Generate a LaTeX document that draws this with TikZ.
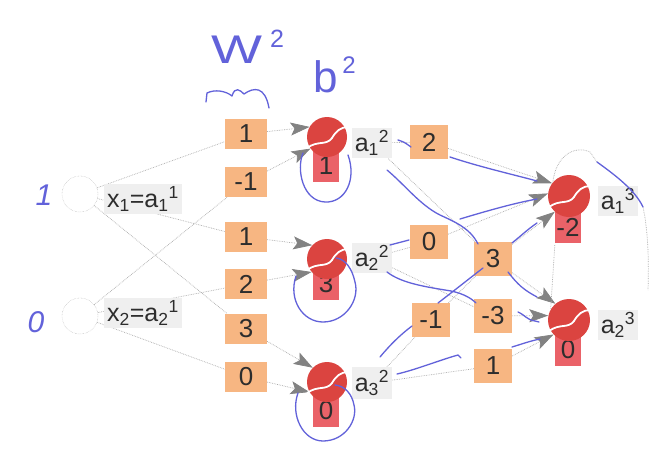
\documentclass[tikz,border=0pt]{standalone}
\usepackage{fontspec}
\setmainfont{Liberation Sans}
\usetikzlibrary{arrows.meta,backgrounds}

\definecolor{wbox}{RGB}{247,182,130}
\definecolor{neur}{RGB}{219,68,64}
\definecolor{bbox}{RGB}{234,98,104}
\definecolor{lbl}{RGB}{239,239,239}
\definecolor{ink}{RGB}{98,98,218}
\definecolor{wirec}{RGB}{170,170,170}
\definecolor{tipc}{RGB}{130,130,130}
\definecolor{printc}{RGB}{45,45,45}

\begin{document}
\begin{tikzpicture}[x=1pt,y=-1pt,
  wt/.style={fill=wbox, minimum width=42pt, minimum height=30pt, inner sep=0pt,
             text=printc, font=\fontsize{26}{28}\selectfont},
  wt2/.style={wt, minimum width=38pt, minimum height=34pt},
  bias/.style={fill=bbox, minimum width=26pt, minimum height=32pt, inner sep=0pt,
               text=printc, font=\fontsize{26}{28}\selectfont},
  neuron/.style={circle, fill=neur, minimum size=40pt, inner sep=0pt},
  inp/.style={circle, draw=wirec, densely dotted, minimum size=36pt, inner sep=0pt},
  lab/.style={fill=lbl, inner sep=3pt, text=printc, font=\fontsize{25}{28}\selectfont},
  wire/.style={draw=wirec, densely dotted, line width=0.7pt},
  feed/.style={wire, -{Stealth[length=19pt,width=13pt,inset=4pt,fill=tipc,color=tipc]}},
  inkline/.style={draw=ink, line width=1.3pt, line cap=round, line join=round},
  hand/.style={text=ink, inner sep=0pt},
  ballseam/.pic={\draw[white, line width=1.8pt]
     (-20,11) .. controls (-9,3) and (-1,9) .. (5,1)
     .. controls (9,-6) and (14,-10) .. (21,-10);}
]
\useasboundingbox (0,0) rectangle (653,450);

% ---- input layer
\node[inp] (in1) at (80,194) {};
\node[inp] (in2) at (80,316) {};

% ---- weights of layer 2
\node[wt] (w1) at (246,134) {1};
\node[wt] (w2) at (246,182) {-1};
\node[wt] (w3) at (246,237) {1};
\node[wt] (w4) at (246,284) {2};
\node[wt] (w5) at (246,329) {3};
\node[wt] (w6) at (246,377) {0};

% ---- hidden layer: bias box first, ball on top
\node[bias] (b1) at (326,166) {1};
\node[neuron] (n1) at (327,137) {};
\node[bias] (b2) at (326,284) {3};
\node[neuron] (n2) at (327,259) {};
\node[bias] (b3) at (326,411) {0};
\node[neuron] (n3) at (327,382) {};
\pic at (n1) {ballseam};
\pic at (n2) {ballseam};
\pic at (n3) {ballseam};

% ---- weights of layer 3
\node[wt2] (v2)  at (429,142) {2};
\node[wt2] (v0)  at (429,242) {0};
\node[wt2] (vm1) at (431,320) {-1};
\node[wt2] (v3)  at (493,259) {3};
\node[wt2] (vm3) at (493,316) {-3};
\node[wt2] (v1)  at (493,366) {1};

% ---- output layer
\node[bias] (ob1) at (568,227) {-2};
\node[neuron, minimum size=42pt] (o1) at (569,196) {};
\node[bias] (ob2) at (568,350) {0};
\node[neuron, minimum size=42pt] (o2) at (569,320) {};
\pic at (o1) {ballseam};
\pic at (o2) {ballseam};

% ---- activation labels
\node[lab] (lx1) at (143,199) {x\textsubscript{1}=a\textsubscript{1}\textsuperscript{1}};
\node[lab] (lx2) at (143,313) {x\textsubscript{2}=a\textsubscript{2}\textsuperscript{1}};
\node[lab] (la1) at (372,143) {a\textsubscript{1}\textsuperscript{2}};
\node[lab] (la2) at (372,258) {a\textsubscript{2}\textsuperscript{2}};
\node[lab] (la3) at (372,383) {a\textsubscript{3}\textsuperscript{2}};
\node[lab] (lo1) at (618,201) {a\textsubscript{1}\textsuperscript{3}};
\node[lab] (lo2) at (618,325) {a\textsubscript{2}\textsuperscript{3}};

% ---- paper and printed connectors, kept behind the boxes
\begin{pgfonlayer}{background}
  \fill[white] (0,0) rectangle (653,450);
  \draw[wire] (in1) -- (w1);
  \draw[wire] (in2) -- (w2);
  \draw[wire] (in1) -- (w3);
  \draw[wire] (in2) -- (w4);
  \draw[wire] (in1) -- (w5);
  \draw[wire] (in2) -- (w6);
  \draw[feed] (w1) -- (n1.150);
  \draw[feed] (w2) -- (n1.215);
  \draw[feed] (w3) -- (n2.137);
  \draw[feed] (w4) -- (n2.220);
  \draw[feed] (w5) -- (n3.135);
  \draw[feed] (w6) -- (n3.210);
  \draw[wire] (la1) -- (v2);
  \draw[wire] (la2) -- (v0);
  \draw[wire] (la1) -- (v3);
  \draw[wire] (la2) -- (vm3);
  \draw[wire] (la3) -- (vm1);
  \draw[wire] (la3) -- (v1);
  \draw[wire] (vm1) -- (v3);
  \draw[feed] (v2) -- (o1.143);
  \draw[feed] (v0) -- (o1.173);
  \draw[feed] (v3) -- (o1.228);
  \draw[feed] (v3) -- (o2.130);
  \draw[feed] (vm3) -- (o2.168);
  \draw[feed] (v1) -- (o2.223);
  % dotted frame round the output layer
  \draw[wire] (o1.140) .. controls (556,155) and (575,145) .. (590,152) -- (597,162);
  \draw[wire] (643,207) .. controls (648,230) and (649,260) .. (648,290);
  \draw[wire] (ob1.south west) ++(0,2) -- (o2.150);
\end{pgfonlayer}

% ---- handwritten notes
\node[hand, font=\fontsize{40}{40}\selectfont] (wlab) at (237,50) {\scalebox{1.35}[1]{W}};
\node[hand, font=\fontsize{25}{25}\selectfont] (wsup) at (277,39) {2};
\draw[inkline] (206,102) -- (207,93) .. controls (215,89) and (226,91) .. (232,96)
  .. controls (235,86) and (240,90) .. (244,94)
  .. controls (254,87) and (265,86) .. (269,108);
\node[hand, font=\fontsize{44}{44}\selectfont] (blab) at (326,77) {b};
\node[hand, font=\fontsize{24}{24}\selectfont] (bsup) at (349,65) {2};
\node[hand, font=\fontsize{30}{30}\selectfont] (one) at (44,195) {\textit{1}};
\node[hand, font=\fontsize{30}{30}\selectfont] (zero) at (36,322) {\textit{0}};

% bias loops
\draw[inkline] (303,153) .. controls (296,170) and (303,201) .. (325,202)
  .. controls (345,203) and (357,180) .. (348,155);
\draw[inkline] (296,276) .. controls (288,300) and (303,322) .. (323,322)
  .. controls (345,322) and (360,300) .. (355,282)
  .. controls (352,268) and (345,259) .. (336,258);
\draw[inkline] (298,393) .. controls (290,415) and (303,441) .. (323,441)
  .. controls (345,441) and (358,420) .. (354,405)
  .. controls (352,394) and (345,386) .. (335,385);

% ink over the layer 3 connectors
\draw[inkline] (398,140) .. controls (404,142) .. (411,147);
\draw[inkline] (450,157) .. controls (480,167) and (515,175) .. (537,181);
\draw[inkline] (387,170) .. controls (405,185) and (420,205) .. (440,215)
  .. controls (455,222) and (470,228) .. (478,244);
\draw[inkline] (460,219) .. controls (490,210) and (515,203) .. (537,199);
\draw[inkline] (390,245) -- (409,240);
\draw[inkline] (512,243) .. controls (522,235) and (528,229) .. (537,223);
\draw[inkline] (387,272) .. controls (400,282) and (420,286) .. (445,290)
  .. controls (460,292) and (470,297) .. (476,303);
\draw[inkline] (508,272) .. controls (518,285) and (524,290) .. (537,297);
\draw[inkline] (518,312) .. controls (525,315) and (527,320) .. (535,321) -- (539,322);
\draw[inkline] (512,347) .. controls (522,344) and (530,341) .. (540,339);
\draw[inkline] (380,357) .. controls (390,345) and (400,335) .. (412,326);
\draw[inkline] (438,303) .. controls (455,290) and (470,278) .. (483,268);
\draw[inkline] (397,374) .. controls (415,370) and (440,360) .. (458,355) -- (461,358);
\draw[inkline] (597,162) .. controls (615,175) and (635,190) .. (643,207);
\end{tikzpicture}
\end{document}
